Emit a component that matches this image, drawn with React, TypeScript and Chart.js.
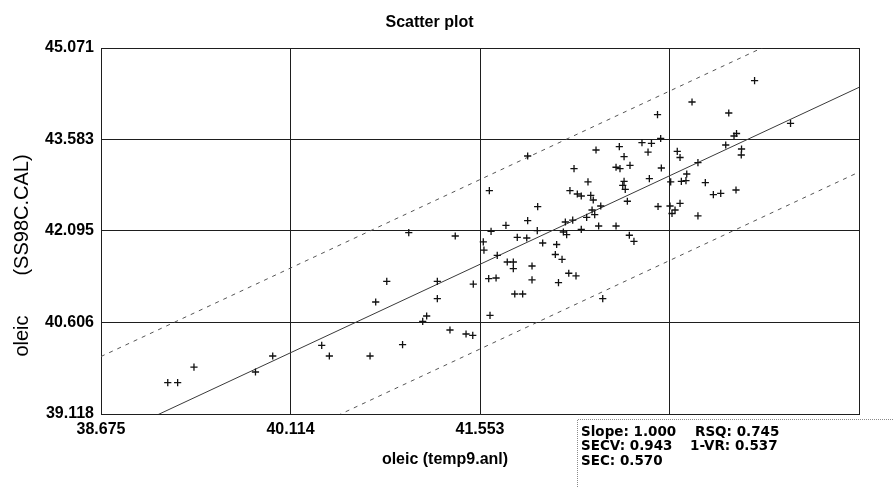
import React, { useEffect, useRef } from 'react';
import { Chart, registerables } from 'chart.js';

Chart.register(...registerables);

const chartTitle = 'Scatter plot';
const xAxisTitle = 'oleic (temp9.anl)';
const yAxisTitleName = 'oleic';
const yAxisTitleFile = '(SS98C.CAL)';

const xTicks = [38.675, 40.114, 41.553, 42.992, 44.431];
const xTickLabels = ['38.675', '40.114', '41.553', '42.992', '44.431'];
const yTicks = [39.118, 40.606, 42.095, 43.583, 45.071];
const yTickLabels = ['39.118', '40.606', '42.095', '43.583', '45.071'];

const measuredX = [
  39.182, 39.257, 39.381, 39.848, 39.979, 40.351, 40.409, 40.718, 40.761, 40.845,
  40.965, 41.012, 41.118, 41.148, 41.229, 41.229, 41.325, 41.365, 41.447, 41.498,
  41.502, 41.578, 41.583, 41.619, 41.624, 41.629, 41.637, 41.675, 41.684, 41.75,
  41.76, 41.806, 41.806, 41.817, 41.836, 41.877, 41.908, 41.915, 41.915, 41.948,
  41.948, 41.988, 41.991, 42.029, 42.135, 42.125, 42.149, 42.176, 42.186, 42.201,
  42.211, 42.227, 42.236, 42.257, 42.267, 42.282, 42.292, 42.322, 42.322, 42.363,
  42.373, 42.394, 42.404, 42.413, 42.424, 42.434, 42.454, 42.47, 42.485, 42.586,
  42.586, 42.611, 42.616, 42.637, 42.647, 42.647, 42.656, 42.672, 42.687, 42.692,
  42.722, 42.783, 42.829, 42.839, 42.855, 42.901, 42.905, 42.925, 42.93, 42.996,
  43.001, 43.011, 43.034, 43.051, 43.072, 43.072, 43.082, 43.117, 43.123, 43.163,
  43.208, 43.208, 43.264, 43.325, 43.381, 43.419, 43.442, 43.482, 43.501, 43.497,
  43.539, 43.537, 43.638, 43.911,
];

const referenceY = [
  39.627, 39.627, 39.882, 39.801, 40.061, 40.235, 40.061, 40.061, 40.94, 41.276,
  40.248, 42.067, 40.626, 40.712, 41.276, 40.993, 40.484, 42.013, 40.419, 40.398,
  41.232, 41.916, 41.785, 41.319, 42.75, 40.723, 42.09, 41.33, 41.699, 42.187,
  41.59, 41.59, 41.481, 41.07, 41.992, 41.07, 41.981, 43.314, 42.262, 41.525,
  41.298, 42.099, 42.49, 41.899, 41.875, 41.712, 41.254, 41.634, 42.078, 42.241,
  42.034, 41.407, 42.75, 42.273, 43.108, 41.363, 42.696, 42.664, 42.122, 42.317,
  42.892, 42.675, 42.436, 42.599, 42.36, 43.412, 42.176, 42.501, 40.993, 42.176,
  43.131, 43.466, 43.108, 42.838, 43.303, 42.903, 42.773, 42.578, 42.025, 43.163,
  41.927, 43.531, 43.379, 42.945, 43.521, 43.986, 42.493, 43.599, 43.119, 42.501,
  42.892, 42.379, 42.436, 43.388, 42.545, 43.29, 42.903, 42.913, 43.022, 44.193,
  43.205, 42.339, 42.88, 42.685, 42.708, 43.493, 44.014, 43.64, 43.68, 42.761,
  43.428, 43.331, 44.539, 43.846,
];

const fitSlope = 1.0;
const fitOffset = 0.0;
const bandHalfWidth = 1.378;

const statsRows = [
  ['Slope: 1.000', 'RSQ: 0.745'],
  ['SECV: 0.943', '1-VR: 0.537'],
  ['SEC: 0.570', ''],
];

const W = 894;
const H = 487;

const tickFont = { family: '"Liberation Sans", Arial, sans-serif', size: 16, weight: 'bold' as const };

const overlayPlugin = {
  id: 'overlayTexts',
  afterDraw(chart: any) {
    const ctx = chart.ctx as CanvasRenderingContext2D;
    ctx.save();
    ctx.fillStyle = '#000';

    // x axis title
    ctx.font = 'bold 16px "Liberation Sans", Arial, sans-serif';
    ctx.textAlign = 'center';
    ctx.textBaseline = 'middle';
    ctx.fillText(xAxisTitle, chart.width / 2 - 2, 460);

    // y axis title (two parts)
    ctx.font = '20px "Liberation Sans", Arial, sans-serif';
    ctx.save();
    ctx.translate(22, 215);
    ctx.rotate(-Math.PI / 2);
    ctx.fillText(yAxisTitleFile, 0, 0);
    ctx.restore();
    ctx.save();
    ctx.translate(22, 336);
    ctx.rotate(-Math.PI / 2);
    ctx.fillText(yAxisTitleName, 0, 0);
    ctx.restore();

    // stats box
    const bx = 577;
    const by = 419;
    ctx.fillStyle = '#fff';
    ctx.fillRect(bx, by, chart.width - bx, chart.height - by);
    ctx.strokeStyle = '#8a8a8a';
    ctx.lineWidth = 1;
    ctx.setLineDash([1, 1]);
    ctx.beginPath();
    ctx.moveTo(bx + 0.5, chart.height);
    ctx.lineTo(bx + 0.5, by + 0.5);
    ctx.lineTo(chart.width, by + 0.5);
    ctx.stroke();
    ctx.setLineDash([]);

    ctx.fillStyle = '#000';
    ctx.font = 'bold 13.5px "DejaVu Sans", sans-serif';
    ctx.textAlign = 'left';
    ctx.textBaseline = 'middle';
    const rowY = [432.5, 446.5, 461];
    const col2X = [695, 690, 690];
    statsRows.forEach((row, i) => {
      ctx.fillText(row[0], 581, rowY[i]);
      if (row[1]) ctx.fillText(row[1], col2X[i], rowY[i]);
    });
    ctx.restore();
  },
};

export default function App() {
  const canvasRef = useRef<HTMLCanvasElement | null>(null);

  useEffect(() => {
    if (!canvasRef.current) return;
    const xMin = xTicks[0];
    const xMax = xTicks[xTicks.length - 1];
    const lineAt = (off: number) => [
      { x: xMin, y: fitSlope * xMin + fitOffset + off },
      { x: xMax, y: fitSlope * xMax + fitOffset + off },
    ];
    const points = measuredX.map((x, i) => ({ x, y: referenceY[i] }));

    const chart = new Chart(canvasRef.current, {
      type: 'scatter',
      data: {
        datasets: [
          {
            label: 'samples',
            data: points,
            pointStyle: 'cross',
            pointRadius: 3.6,
            pointBorderWidth: 1.3,
            borderColor: '#111',
            backgroundColor: '#111',
            showLine: false,
          },
          {
            label: 'fit',
            data: lineAt(0),
            showLine: true,
            pointRadius: 0,
            borderColor: '#3a3a3a',
            borderWidth: 1,
          },
          {
            label: 'upper',
            data: lineAt(bandHalfWidth),
            showLine: true,
            pointRadius: 0,
            borderColor: '#555',
            borderWidth: 1,
            borderDash: [4, 5],
          },
          {
            label: 'lower',
            data: lineAt(-bandHalfWidth),
            showLine: true,
            pointRadius: 0,
            borderColor: '#555',
            borderWidth: 1,
            borderDash: [4, 5],
          },
        ],
      } as any,
      options: {
        animation: false,
        responsive: false,
        devicePixelRatio: 1,
        layout: { padding: { left: 0, right: 35, top: 0, bottom: 0 } },
        plugins: {
          legend: { display: false },
          tooltip: { enabled: false },
          title: {
            display: true,
            text: chartTitle,
            color: '#000',
            font: { family: '"Liberation Sans", Arial, sans-serif', size: 16, weight: 'bold' },
            padding: { top: 13, bottom: 15.8 },
          },
        },
        scales: {
          x: {
            type: 'linear',
            min: xMin,
            max: xMax,
            afterBuildTicks: (s: any) => {
              s.ticks = xTicks.map((v) => ({ value: v }));
            },
            afterFit: (s: any) => {
              s.height = 73;
            },
            ticks: {
              autoSkip: false,
              maxRotation: 0,
              padding: 6,
              color: '#000',
              font: tickFont,
              callback: (_v: any, i: number) => xTickLabels[i],
            },
            grid: { color: '#1e1e1e', lineWidth: 1, drawTicks: false },
            border: { color: '#1e1e1e', width: 1 },
          },
          y: {
            type: 'linear',
            min: yTicks[0],
            max: yTicks[yTicks.length - 1],
            afterBuildTicks: (s: any) => {
              s.ticks = yTicks.map((v) => ({ value: v }));
            },
            afterFit: (s: any) => {
              s.width = 101;
            },
            ticks: {
              autoSkip: false,
              padding: 7,
              color: '#000',
              font: tickFont,
              callback: (_v: any, i: number) => yTickLabels[i],
            },
            grid: { color: '#1e1e1e', lineWidth: 1, drawTicks: false },
            border: { color: '#1e1e1e', width: 1 },
          },
        },
      } as any,
      plugins: [overlayPlugin],
    });
    return () => chart.destroy();
  }, []);

  return (
    <div style={{ position: 'fixed', left: 0, top: 0, width: W, height: H, background: '#fff' }}>
      <canvas ref={canvasRef} width={W} height={H} style={{ width: W, height: H, display: 'block' }} />
    </div>
  );
}
